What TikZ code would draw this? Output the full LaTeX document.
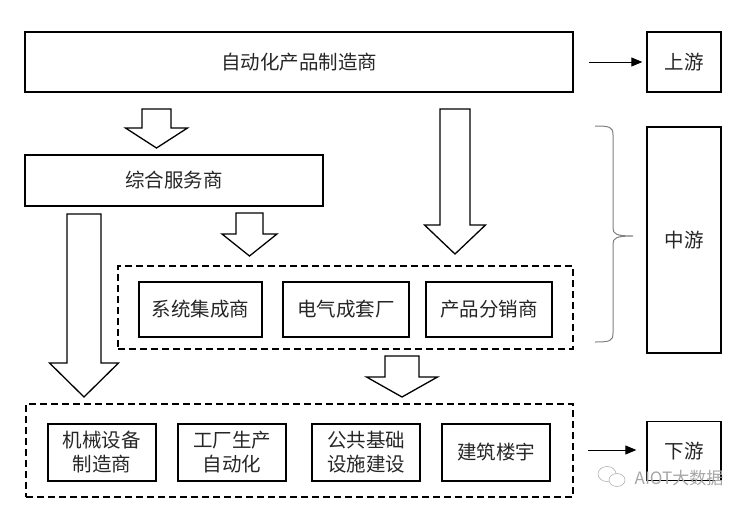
\documentclass[tikz,border=0pt]{standalone}
\usepackage{fontspec}
\setmainfont{Noto Sans CJK SC}
\usepackage{tikz}
\usetikzlibrary{arrows.meta}

\begin{document}
\begin{tikzpicture}[x=1pt,y=-1pt]
            \tikzset{
                box/.style={draw, line width=1.3pt, text=black!85, align=center,
                    font=\fontsize{19.5}{24}\selectfont, inner sep=0pt},
                grp/.style={draw, line width=1.3pt, dash pattern=on 7pt off 4pt},
                blk/.style={draw, line width=1.3pt, fill=white},
                lnk/.style={line width=0.9pt, -{Triangle[length=11pt,width=9pt]}},}
            % block arrow: centre x, top, half shaft, half head, neck, tip
            \def\blockarr#1#2#3#4#5#6{({#1-#3},#2) -- ({#1+#3},#2) -- ({#1+#3},#5) -- ({#1+#4},#5)
                -- (#1,#6) -- ({#1-#4},#5) -- ({#1-#3},#5) -- cycle}
            \useasboundingbox (0,0) rectangle (748,509);
            \node[box, minimum width=548pt, minimum height=60pt] (maker) at (299,62) {自动化产品制造商};
            \node[box, minimum width=298pt, minimum height=51pt] (integ) at (174,180.5) {综合服务商};
            \node[grp, minimum width=455pt, minimum height=83pt] (mid) at (345.5,307.5) {};
            \node[box, minimum width=123pt, minimum height=55pt] (sys) at (200.5,309.5) {系统集成商};
            \node[box, minimum width=126pt, minimum height=55pt] (elec) at (346,309.5) {电气成套厂};
            \node[box, minimum width=126pt, minimum height=55pt] (dist) at (489,309.5) {产品分销商};
            \node[grp, minimum width=547pt, minimum height=93pt] (low) at (299.5,450.5) {};
            \node[box, minimum width=108pt, minimum height=57pt] (mach) at (102,452.5) {机械设备\\制造商};
            \node[box, minimum width=108pt, minimum height=57pt] (fact) at (232,452.5) {工厂生产\\自动化};
            \node[box, minimum width=108pt, minimum height=57pt] (infra) at (366,452.5) {公共基础\\设施建设};
            \node[box, minimum width=108pt, minimum height=57pt] (bldg) at (496,452.5) {建筑楼宇};
            \node[box, minimum width=74pt, minimum height=60pt] (up) at (684,62) {上游};
            \node[box, minimum width=74pt, minimum height=226pt] (midstream) at (684,240) {中游};
            \node[box, minimum width=74pt, minimum height=59pt] (down) at (684,451) {下游};
            \coordinate (ua) at (589,62);
            \coordinate (da) at (588,450);
            \draw[lnk, shorten >=4pt] (ua) -- (up.west |- ua);
            \draw[lnk, shorten >=10pt] (da) -- (down.west |- da);
            \draw[blk] \blockarr{156.5}{109}{14.5}{31}{128}{148};
            \draw[blk] \blockarr{84}{214}{17}{34.5}{363}{397};
            \draw[blk] \blockarr{249.5}{213}{13.5}{27.5}{234}{256};
            \draw[blk] \blockarr{455}{109}{15}{30.5}{225}{254};
            \draw[blk] \blockarr{402}{356}{17}{35.5}{377}{397};
            % brace for the middle stream
            \draw[gray, line width=1pt] (595,126) .. controls (610,126) and (613,127) .. (613,135) -- (613,228)
                .. controls (613,234) and (616,236) .. (633,236)
                .. controls (616,236) and (613,238) .. (613,244) -- (613,333)
                .. controls (613,341) and (610,342) .. (595,342);
            % watermark
            \draw[gray!60, line width=0.6pt] (607,474) ellipse (9pt and 7.5pt);
            \draw[gray!60, line width=0.6pt, fill=white] (617,480) ellipse (8pt and 6.5pt);
            \node[text=gray!70, font=\fontsize{17}{20}\selectfont, inner sep=0pt] (wm) at (679,478) {AIOT大数据};
        \end{tikzpicture}
\end{document}
